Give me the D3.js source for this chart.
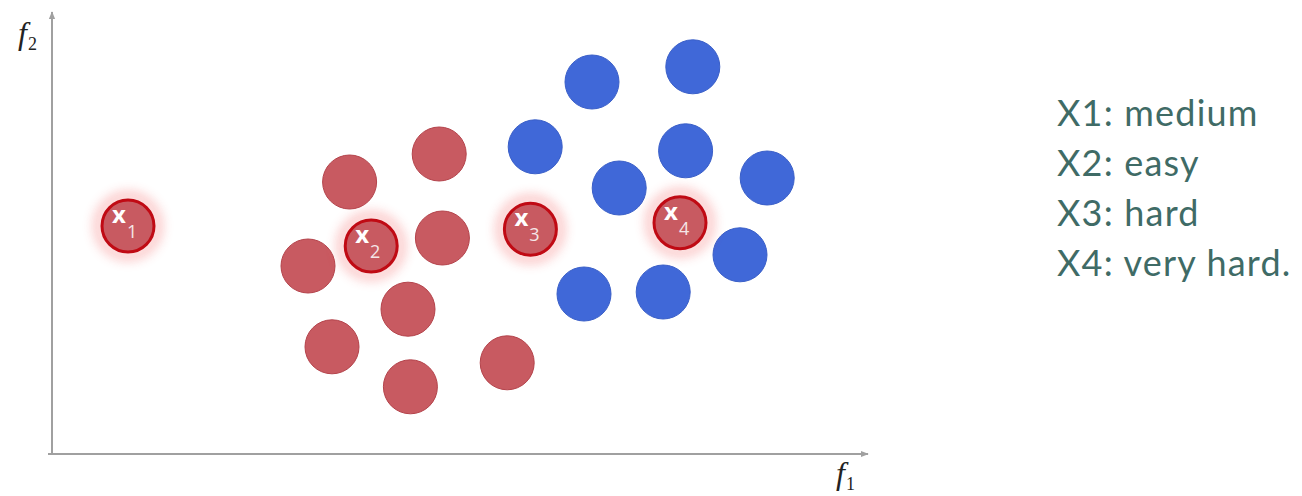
<!DOCTYPE html>
<html>
<head>
<meta charset="utf-8">
<script src="https://cdn.jsdelivr.net/npm/d3@7"></script>
<style>
  html, body { margin: 0; padding: 0; background: #ffffff; }
  svg { display: block; }
</style>
</head>
<body>
<svg id="chart" width="1302" height="496"></svg>
<script>
// Feature values (f1, f2) of the two classes
const redF1  = [37.2, 48.4, 48.8, 32.0, 44.5, 35.0, 44.8, 56.9];
const redF2  = [68.0, 75.0, 54.0, 47.0, 36.2, 26.8, 16.8, 22.8];
const blueF1 = [67.5, 80.1, 60.4, 79.2, 70.9, 89.4, 86.0, 66.5, 76.4];
const blueF2 = [93.0, 96.8, 76.8, 75.8, 66.5, 69.0, 49.8, 40.0, 40.5];

// Highlighted query samples
const queryIds = ["1", "2", "3", "4"];
const queryF1  = [9.5, 39.9, 59.8, 78.5];
const queryF2  = [57.0, 52.0, 56.2, 57.8];

// Difficulty of each query sample
const legendLines = ["X1: medium", "X2: easy", "X3: hard", "X4: very hard."];

const svg = d3.select("#chart");

const x = d3.scaleLinear().domain([0, 100]).range([52, 852]);
const y = d3.scaleLinear().domain([0, 100]).range([454, 54]);

const R = 27;
const RED = "#c85a61";
const RED_EDGE = "#b4434b";
const BLUE = "#4068d8";
const BLUE_EDGE = "#3a5fc8";
const AXIS = "#a0a0a0";

const defs = svg.append("defs");
defs.append("marker")
  .attr("id", "arrow")
  .attr("viewBox", "0 0 10 10")
  .attr("refX", 9).attr("refY", 5)
  .attr("markerWidth", 4).attr("markerHeight", 4)
  .attr("orient", "auto")
  .append("path").attr("d", "M0,1 L10,5 L0,9 Z").attr("fill", AXIS);

defs.append("filter")
  .attr("id", "glow")
  .attr("x", "-50%").attr("y", "-50%").attr("width", "200%").attr("height", "200%")
  .append("feGaussianBlur").attr("stdDeviation", 6);

// Axes with arrow heads
const [x0] = x.range();
const [y0] = y.range();
svg.append("line")
  .attr("x1", x0).attr("y1", y0).attr("x2", x0).attr("y2", 12)
  .attr("stroke", AXIS).attr("stroke-width", 2)
  .attr("marker-end", "url(#arrow)");
svg.append("line")
  .attr("x1", x0 - 4).attr("y1", y0).attr("x2", 868).attr("y2", y0)
  .attr("stroke", AXIS).attr("stroke-width", 2)
  .attr("marker-end", "url(#arrow)");

// Axis titles
function axisTitle(px, py, sub) {
  const t = svg.append("text")
    .attr("x", px).attr("y", py)
    .attr("font-family", "'Liberation Serif', 'DejaVu Serif', serif")
    .attr("fill", "#222");
  t.append("tspan").attr("font-style", "italic").attr("font-size", 32).text("f");
  t.append("tspan").attr("font-size", 18).attr("dx", 1).attr("dy", 6).text(sub);
}
axisTitle(18, 44, "2");
axisTitle(836, 484, "1");

// Class points
const red = d3.zip(redF1, redF2);
const blue = d3.zip(blueF1, blueF2);

svg.append("g").selectAll("circle").data(red).join("circle")
  .attr("cx", d => x(d[0])).attr("cy", d => y(d[1])).attr("r", R)
  .attr("fill", RED).attr("stroke", RED_EDGE).attr("stroke-width", 1);

svg.append("g").selectAll("circle").data(blue).join("circle")
  .attr("cx", d => x(d[0])).attr("cy", d => y(d[1])).attr("r", R)
  .attr("fill", BLUE).attr("stroke", BLUE_EDGE).attr("stroke-width", 1);

// Query samples: glowing ring + label
const queries = queryIds.map((id, i) => ({ id, f1: queryF1[i], f2: queryF2[i] }));
const q = svg.append("g").selectAll("g").data(queries).join("g")
  .attr("transform", d => `translate(${x(d.f1)},${y(d.f2)})`);

q.append("circle").attr("r", R + 3)
  .attr("fill", "none").attr("stroke", "#f03a3a").attr("stroke-width", 8)
  .attr("opacity", 0.35).attr("filter", "url(#glow)");
q.append("circle").attr("r", R - 1)
  .attr("fill", RED).attr("stroke", "#c00a14").attr("stroke-width", 3);

const lbl = q.append("text")
  .attr("x", -16).attr("y", -3)
  .attr("font-family", "'Open Sans', 'Liberation Sans', sans-serif")
  .attr("fill", "#ffffff");
lbl.append("tspan").attr("font-size", 24).attr("font-weight", "bold").text("x");
lbl.append("tspan").attr("font-size", 18).attr("fill", "#f5e6e7")
  .attr("dx", 1).attr("dy", 15).text(d => d.id);

// Difficulty legend
svg.append("g").selectAll("text").data(legendLines).join("text")
  .attr("x", 1057).attr("y", (d, i) => 126 + i * 50)
  .attr("font-family", "Lato, 'Noto Sans', sans-serif")
  .attr("font-size", 36)
  .attr("letter-spacing", 1.2)
  .attr("fill", "#3f6b66")
  .text(d => d);
</script>
</body>
</html>
